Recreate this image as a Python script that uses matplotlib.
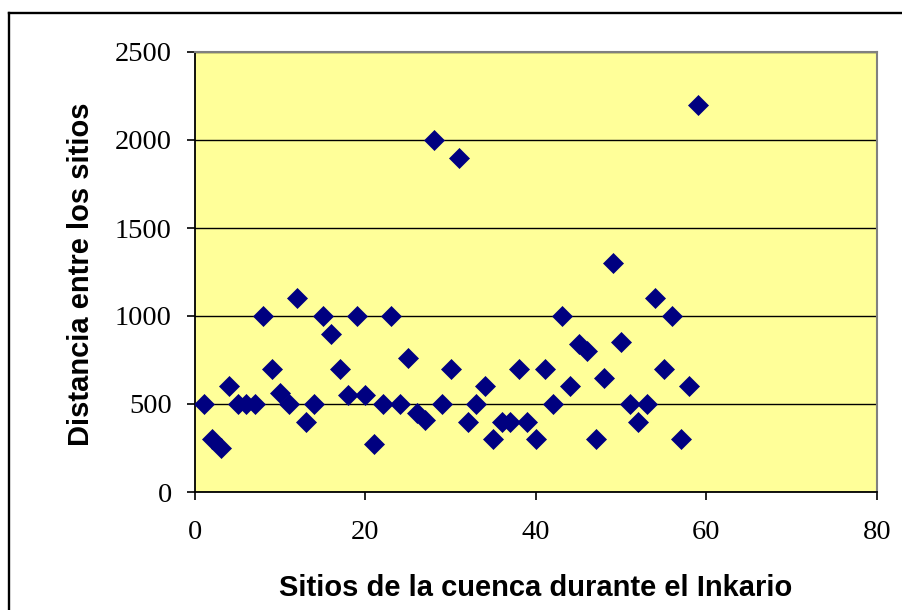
import matplotlib
matplotlib.use("Agg")
import matplotlib.pyplot as plt
from matplotlib.lines import Line2D

# Data
site_index = list(range(1, 60))
distance = [500, 300, 250, 600, 500, 500, 500, 1000, 700, 560,
            500, 1100, 400, 500, 1000, 900, 700, 550, 1000, 550,
            275, 500, 1000, 500, 760, 450, 410, 2000, 500, 700,
            1900, 400, 500, 600, 300, 400, 400, 700, 400, 300,
            700, 500, 1000, 600, 840, 800, 300, 650, 1300, 850,
            500, 400, 500, 1100, 700, 1000, 300, 600, 2200]

x_ticks = [0, 20, 40, 60, 80]
y_ticks = [0, 500, 1000, 1500, 2000, 2500]
x_label = "Sitios de la cuenca durante el Inkario"
y_label = "Distancia entre los sitios"

W, H = 903, 610
fig = plt.figure(figsize=(W / 100, H / 100), dpi=100)
fig.patch.set_facecolor("white")

left, right, top, bottom = 195, 877, 52, 492
ax = fig.add_axes([left / W, 1 - bottom / H, (right - left) / W, (bottom - top) / H])
ax.set_facecolor("#FFFF99")

ax.plot(site_index, distance, linestyle="none", marker="D", markersize=10.5,
        color="#000080", markeredgecolor="#000080", markeredgewidth=0.5, zorder=3)

ax.set_xlim(0, 80)
ax.set_ylim(0, 2500)
ax.set_xticks(x_ticks)
ax.set_yticks(y_ticks)
ax.yaxis.grid(True, color="black", linewidth=1.0)
ax.xaxis.grid(False)
ax.set_axisbelow(True)

for s in ("left", "bottom"):
    ax.spines[s].set_color("black")
    ax.spines[s].set_linewidth(1.3)
for s in ("top", "right"):
    ax.spines[s].set_color("#808080")
    ax.spines[s].set_linewidth(1.5)

tick_font = dict(family="Liberation Serif", size=20.5)
ax.tick_params(axis="both", direction="out", length=6, width=1.2, color="black")
ax.tick_params(axis="y", pad=10.8)
ax.tick_params(axis="x", pad=14.5)
for lab in ax.get_xticklabels() + ax.get_yticklabels():
    lab.set_fontfamily(tick_font["family"])
    lab.set_fontsize(tick_font["size"])

ax.set_xlabel(x_label, fontfamily="Liberation Sans", fontweight="bold", fontsize=21)
ax.xaxis.label.set_verticalalignment("baseline")
ax.xaxis.set_label_coords(0.5, (bottom - 596) / (bottom - top))

ax.set_ylabel(y_label, fontfamily="Liberation Sans", fontweight="bold", fontsize=21)
ax.yaxis.label.set_verticalalignment("baseline")
ax.yaxis.set_label_coords((89 - left) / (right - left), 0.5 - 2 / (bottom - top))

# outer chart frame (left and top edges visible)
fx = 9.5 / W
fy = 1 - 13 / H
fig.add_artist(Line2D([fx, fx], [0, fy], transform=fig.transFigure, color="black", linewidth=1.7))
fig.add_artist(Line2D([fx, 1], [fy, fy], transform=fig.transFigure, color="black", linewidth=1.7))

fig.savefig("out.png", dpi=100)
